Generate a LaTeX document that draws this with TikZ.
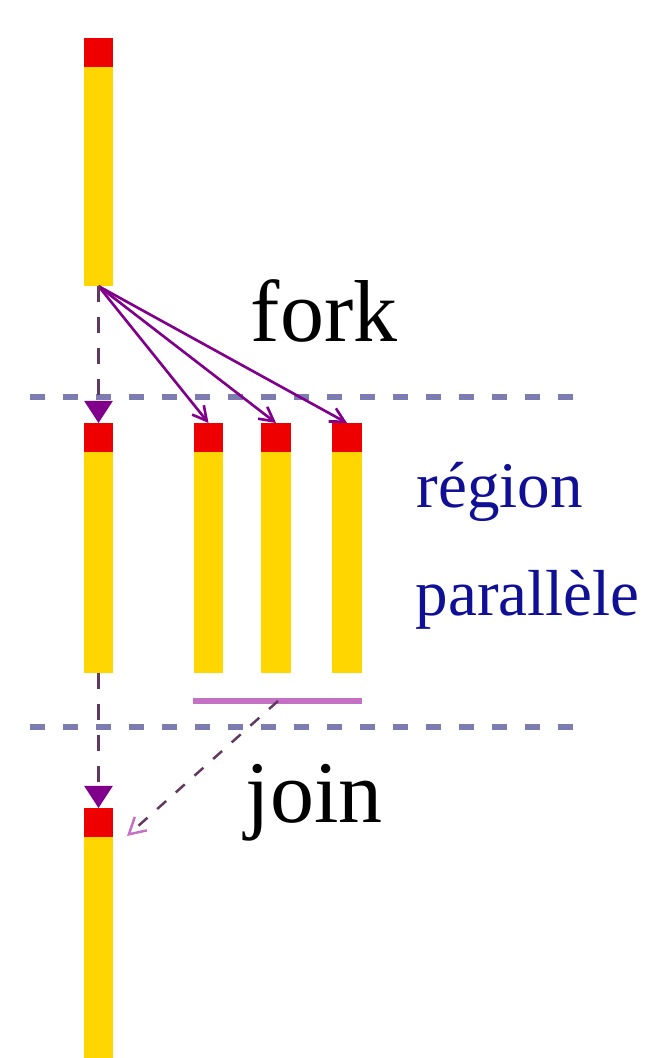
\documentclass[tikz,border=0pt]{standalone}
\usepackage{fontspec}
\setmainfont{Liberation Serif}
\usetikzlibrary{arrows.meta,positioning}

\definecolor{thrYellow}{RGB}{255,214,0}
\definecolor{thrRed}{RGB}{238,0,0}
\definecolor{forkPurple}{RGB}{128,0,140}
\definecolor{sepBlue}{RGB}{124,124,176}
\definecolor{barMagenta}{RGB}{196,112,196}
\definecolor{txtNavy}{RGB}{16,16,150}
\definecolor{joinGrey}{RGB}{96,56,96}

\begin{document}
\begin{tikzpicture}[
  x=0.01cm, y=-0.01cm,
  head/.style={fill=thrRed, minimum width=0.29cm, minimum height=0.29cm, inner sep=0pt, outer sep=0pt, anchor=north},
  body/.style={fill=thrYellow, minimum width=0.29cm, inner sep=0pt, outer sep=0pt},
  sepline/.style={draw=sepBlue, line width=1.6pt, dash pattern=on 0.15cm off 0.18cm},
  spawn/.style={draw=forkPurple, line width=0.75pt, -{Straight Barb[length=0.14cm, width=0.15cm]}},
  flow/.style={draw=joinGrey, line width=0.7pt, dash pattern=on 0.16cm off 0.15cm,
    -{Triangle[length=0.22cm, width=0.28cm, color=forkPurple, fill=forkPurple]}},
  joinarr/.style={draw=joinGrey, line width=0.7pt, dash pattern=on 0.12cm off 0.13cm,
    -{Straight Barb[length=0.16cm, width=0.18cm, color=barMagenta]}},
  big/.style={font=\fontsize{25}{30}\selectfont, anchor=base, inner sep=0pt},
  note/.style={font=\fontsize{18.5}{22}\selectfont, text=txtNavy, anchor=base west, inner sep=0pt}
]
  \useasboundingbox (0,0) rectangle (662,1058);

  % separators of the parallel region
  \draw[sepline] (30,397) -- (580,397);
  \draw[sepline] (30,727) -- (580,727);

  % master thread
  \node[head] (m0) at (98.5,38) {};
  \node[body, minimum height=2.19cm, below=0pt of m0] (b0) {};
  \node[head] (m1) at (98.5,423) {};
  \node[body, minimum height=2.21cm, below=0pt of m1] (b1) {};
  \node[head] (m2) at (98.5,808) {};
  \node[body, minimum height=2.30cm, below=0pt of m2] (b2) {};

  % worker threads
  \foreach \x/\n in {208.5/1, 276/2, 347/3} {
    \node[head] (w\n) at (\x,423) {};
    \node[body, minimum height=2.21cm, below=0pt of w\n] (wb\n) {};
  }

  % fork
  \foreach \n in {1,2,3}
    \draw[spawn] (b0.south) -- (w\n.north);
  \draw[flow] (b0.south) -- (m1.north);

  % join
  \coordinate (jl) at (193,701);
  \coordinate (jr) at (362,701);
  \coordinate (jm) at (278,701);
  \coordinate (jend) at (127,836);
  \draw[barMagenta, line width=1.5pt] (jl) -- (jr);
  \draw[joinarr] (jm) -- (jend);
  \draw[flow] (b1.south) -- (m2.north);

  % labels
  \node[big] (forklbl) at (324,342) {fork};
  \node[big] (joinlbl) at (314,822) {join};
  \node[note] (reglbl) at (416,507) {région};
  \node[note] (parlbl) at (415,615) {parallèle};
\end{tikzpicture}
\end{document}
